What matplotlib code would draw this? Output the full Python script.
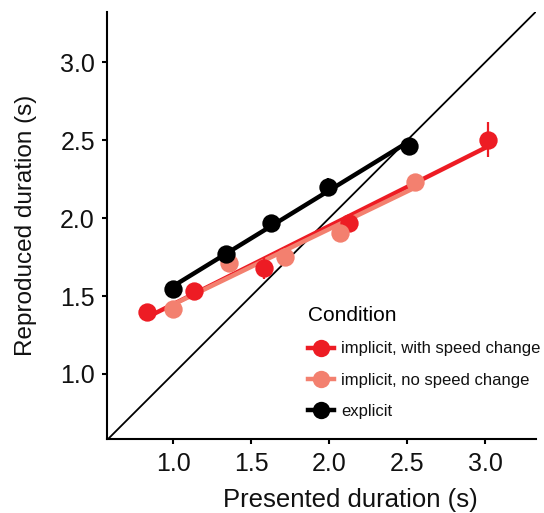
import numpy as np
import matplotlib
matplotlib.use("Agg")
import matplotlib.pyplot as plt
from matplotlib.lines import Line2D

plt.rcParams['font.family'] = ['Liberation Sans', 'DejaVu Sans']

# ---- data ----
conditions = ["implicit, with speed change", "implicit, no speed change", "explicit"]
colors = ["#ED1C24", "#F3806F", "#000000"]

x_speed = [0.83, 1.13, 1.58, 2.13, 3.02]
y_speed = [1.40, 1.535, 1.68, 1.97, 2.505]
err_speed = [0.04, 0.04, 0.07, 0.05, 0.11]

x_nospeed = [1.00, 1.36, 1.72, 2.07, 2.55]
y_nospeed = [1.415, 1.715, 1.75, 1.905, 2.235]
err_nospeed = [0.03, 0.04, 0.06, 0.05, 0.04]

x_explicit = [1.00, 1.34, 1.63, 1.99, 2.51]
y_explicit = [1.545, 1.77, 1.97, 2.20, 2.465]
err_explicit = [0.05, 0.05, 0.05, 0.06, 0.05]

x_ticks = [1.0, 1.5, 2.0, 2.5, 3.0]
y_ticks = [1.0, 1.5, 2.0, 2.5, 3.0]
tick_labels = ["1.0", "1.5", "2.0", "2.5", "3.0"]

series = [(x_speed, y_speed, err_speed),
          (x_nospeed, y_nospeed, err_nospeed),
          (x_explicit, y_explicit, err_explicit)]

fig = plt.figure(figsize=(5.44, 5.13), dpi=100)
ax = fig.add_axes([107.3 / 544, 1 - 439.3 / 513, (535.7 - 107.3) / 544, (439.3 - 11.7) / 513])

ax.set_xlim(0.577, 3.325)
ax.set_ylim(0.580, 3.326)

# identity line
ax.axline((1, 1), slope=1, color="black", lw=1.3, zorder=1)

# fit lines
for (xs, ys, es), c in zip(series, colors):
    xs = np.asarray(xs); ys = np.asarray(ys)
    b, a = np.polyfit(xs, ys, 1)
    xx = np.array([xs.min(), xs.max()])
    ax.plot(xx, a + b * xx, color=c, lw=3.2, solid_capstyle='butt', zorder=2)

# points with error bars
handles = []
for (xs, ys, es), c, lab in zip(series, colors, conditions):
    ax.errorbar(xs, ys, yerr=es, fmt='o', color=c, ms=13.2, mew=0,
                elinewidth=1.6, capsize=0, zorder=3)
    handles.append(Line2D([], [], color=c, lw=3.2, marker='o', ms=12.5, mew=0, label=lab))

ax.set_xticks(x_ticks)
ax.set_xticklabels(tick_labels)
ax.set_yticks(y_ticks)
ax.set_yticklabels(tick_labels)

for s in ['top', 'right']:
    ax.spines[s].set_visible(False)
for s in ['left', 'bottom']:
    ax.spines[s].set_linewidth(1.5)
ax.tick_params(axis='both', which='major', length=3.6, width=1.5, color='black',
               labelsize=18, labelcolor='#111111')
ax.tick_params(axis='x', pad=5.5)
ax.tick_params(axis='y', pad=5.3)

ax.set_xlabel("Presented duration (s)", fontsize=18.5, color='#111111')
ax.set_ylabel("Reproduced duration (s)", fontsize=17.5, color='#111111')
ax.xaxis.label.set_va('baseline')
ax.xaxis.set_label_coords((350 - 107.3) / 428.4, (439.3 - 506.7) / 427.6)
ax.yaxis.set_label_coords(-0.164, 0.5)

leg = ax.legend(handles=handles, title="Condition", loc='upper left',
                bbox_to_anchor=(308 / 544, 1 - 306 / 513), bbox_transform=fig.transFigure,
                frameon=False, fontsize=12, title_fontsize=15, borderpad=0,
                handlelength=1.55, handletextpad=0.42, labelspacing=0.98,
                alignment='left', borderaxespad=0)
for t in leg.get_texts():
    t.set_color('#111111')

fig.savefig("out.png", dpi=100)
